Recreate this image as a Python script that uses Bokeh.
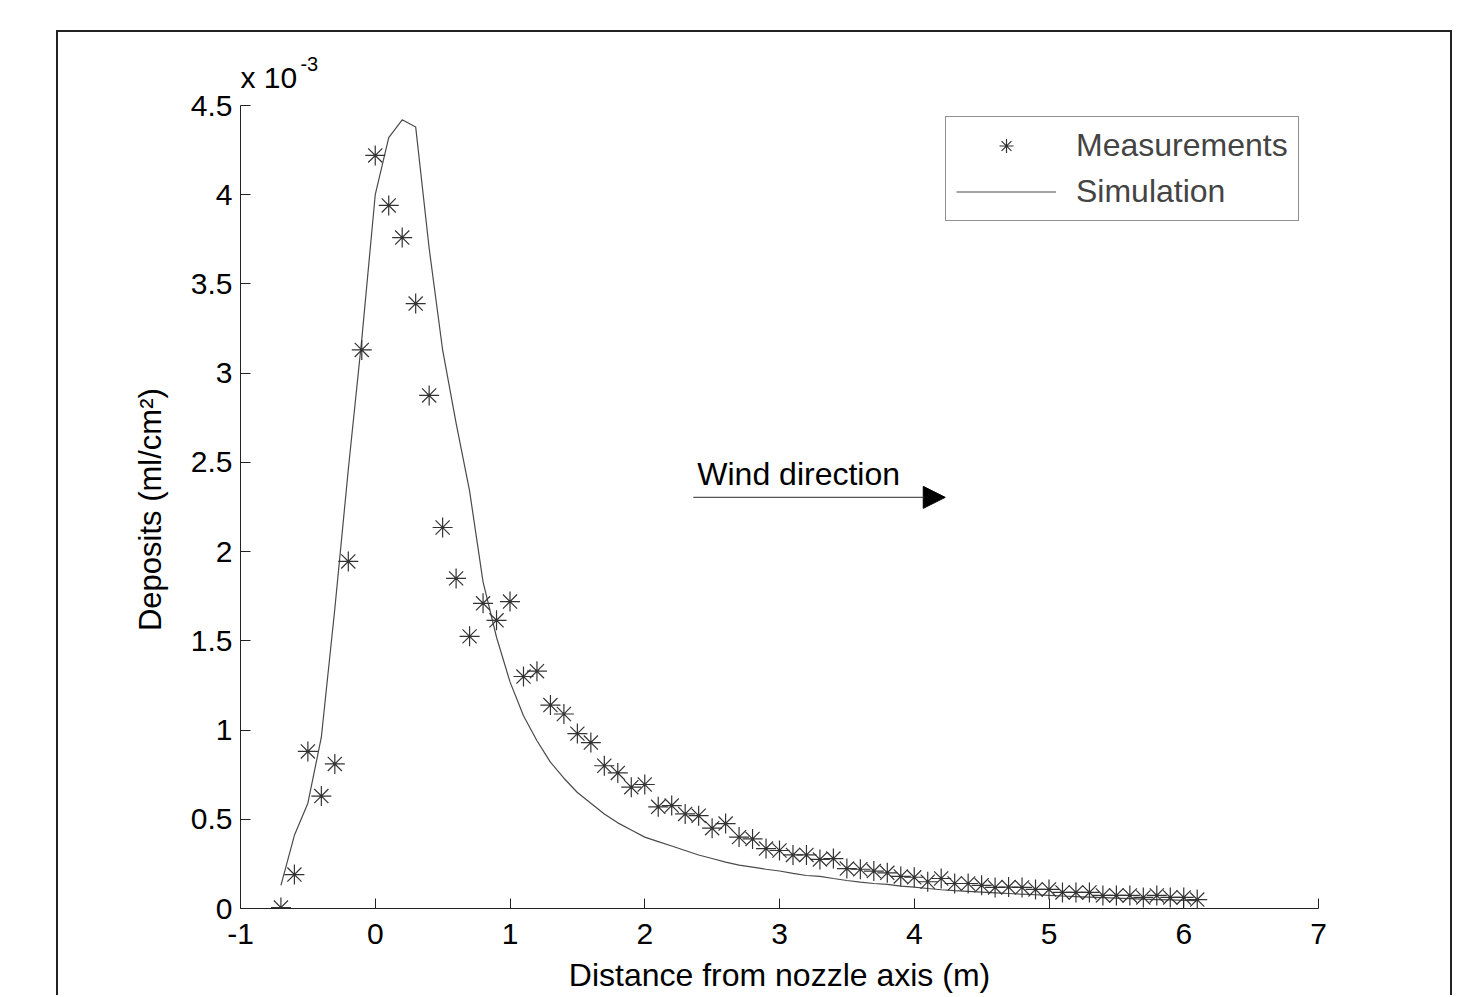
from bokeh.plotting import figure
from bokeh.models import Range1d, FixedTicker, Label, Arrow, NormalHead, Legend, LegendItem
from bokeh.embed import file_html
from bokeh.resources import INLINE

# ---- data (deposits in units of 1e-3 ml/cm^2) ----
meas_x = [-0.7, -0.6, -0.5, -0.4, -0.3, -0.2, -0.1, 0.0, 0.1, 0.2, 0.3, 0.4, 0.5, 0.6, 0.7, 0.8, 0.9,
          1.0, 1.1, 1.2, 1.3, 1.4, 1.5, 1.6, 1.7, 1.8, 1.9, 2.0, 2.1, 2.2, 2.3, 2.4, 2.5, 2.6, 2.7,
          2.8, 2.9, 3.0, 3.1, 3.2, 3.3, 3.4, 3.5, 3.6, 3.7, 3.8, 3.9, 4.0, 4.1, 4.2, 4.3, 4.4, 4.5,
          4.6, 4.7, 4.8, 4.9, 5.0, 5.1, 5.2, 5.3, 5.4, 5.5, 5.6, 5.7, 5.8, 5.9, 6.0, 6.1]
meas_y = [0.005, 0.19, 0.88, 0.63, 0.81, 1.945, 3.13, 4.22, 3.94, 3.76, 3.39, 2.875, 2.135, 1.85,
          1.525, 1.71, 1.615, 1.72, 1.30, 1.33, 1.14, 1.09, 0.98, 0.93, 0.80, 0.76, 0.68, 0.695,
          0.57, 0.577, 0.53, 0.52, 0.45, 0.476, 0.40, 0.39, 0.336, 0.325, 0.30, 0.30, 0.275, 0.28,
          0.224, 0.22, 0.21, 0.20, 0.18, 0.175, 0.15, 0.168, 0.14, 0.14, 0.13, 0.118, 0.12, 0.118,
          0.107, 0.107, 0.09, 0.09, 0.09, 0.073, 0.073, 0.073, 0.062, 0.073, 0.062, 0.062, 0.05]
sim_x = list(meas_x)
sim_y = [0.13, 0.41, 0.59, 0.96, 1.68, 2.46, 3.19, 4.00, 4.32, 4.42, 4.38, 3.70, 3.13, 2.72, 2.34,
         1.83, 1.52, 1.27, 1.08, 0.94, 0.82, 0.73, 0.65, 0.59, 0.53, 0.48, 0.44, 0.40, 0.375, 0.35,
         0.325, 0.30, 0.28, 0.26, 0.243, 0.232, 0.22, 0.21, 0.197, 0.185, 0.18, 0.168, 0.157, 0.148,
         0.14, 0.135, 0.125, 0.12, 0.112, 0.105, 0.10, 0.096, 0.092, 0.088, 0.084, 0.08, 0.077,
         0.074, 0.07, 0.067, 0.064, 0.061, 0.058, 0.055, 0.052, 0.05, 0.048, 0.046, 0.044]

x_ticks = [-1, 0, 1, 2, 3, 4, 5, 6, 7]
x_tick_labels = ["-1", "0", "1", "2", "3", "4", "5", "6", "7"]
y_ticks = [0, 0.5, 1, 1.5, 2, 2.5, 3, 3.5, 4, 4.5]
y_tick_labels = ["0", "0.5", "1", "1.5", "2", "2.5", "3", "3.5", "4", "4.5"]

FONT = "Liberation Sans"

Y_MAX = 4.5
EXTRA_PX = 55                       # empty room above the axis for the exponent label
PX_PER_UNIT = 803 / Y_MAX
Y_TOP = Y_MAX + EXTRA_PX / PX_PER_UNIT

p = figure(output_backend="svg", toolbar_location=None,
           frame_width=1078, frame_height=803 + EXTRA_PX,
           min_border_left=182, min_border_right=132, min_border_top=18, min_border_bottom=85,
           x_range=Range1d(-1, 7), y_range=Range1d(0, Y_TOP))
p.margin = (30, 0, 0, 56)
p.styles = {"border-left": "2px solid #222", "border-top": "2px solid #222",
            "border-right": "2px solid #222", "box-sizing": "content-box"}
p.outline_line_color = None
p.grid.visible = False
p.background_fill_color = "white"
p.border_fill_color = "white"

for ax in (p.xaxis[0], p.yaxis[0]):
    ax.major_tick_in = 10
    ax.major_tick_out = 0
    ax.minor_tick_line_color = None
    ax.axis_line_color = "#222"
    ax.major_tick_line_color = "#222"
    ax.major_label_text_font = FONT
    ax.major_label_text_font_size = "30px"
    ax.major_label_text_color = "black"
    ax.axis_label_text_font = FONT
    ax.axis_label_text_font_style = "normal"
    ax.axis_label_text_color = "black"

p.yaxis.bounds = (0, Y_MAX)
p.xaxis.ticker = FixedTicker(ticks=x_ticks)
p.xaxis.major_label_overrides = {t: l for t, l in zip(x_ticks, x_tick_labels)}
p.yaxis.ticker = FixedTicker(ticks=y_ticks)
p.yaxis.major_label_overrides = {t: l for t, l in zip(y_ticks, y_tick_labels)}
p.xaxis.major_label_standoff = 15
p.yaxis.major_label_standoff = 8
p.xaxis.axis_label = "Distance from nozzle axis (m)"
# trailing no-break spaces re-centre the rotated label on the 0-4.5 span of the axis
p.yaxis.axis_label = "Deposits (ml/cm²)" + "\u00a0" * 7
p.xaxis.axis_label_text_font_size = "32px"
p.yaxis.axis_label_text_font_size = "31px"
p.xaxis.axis_label_standoff = 10
p.yaxis.axis_label_standoff = 20

sim = p.line(sim_x, sim_y, line_color="#4a4a4a", line_width=1.2)
meas = p.scatter(meas_x, meas_y, marker="asterisk", size=20, line_color="#333333", line_width=1.2)

legend = Legend(items=[LegendItem(label="Measurements", renderers=[meas]),
                       LegendItem(label="Simulation", renderers=[sim])],
                location=(705, 687), padding=10, spacing=9,
                glyph_width=100, glyph_height=35, label_height=35, label_standoff=20,
                label_text_font=FONT, label_text_font_size="32px",
                border_line_color="#222", border_line_width=1.5,
                background_fill_alpha=1.0)
p.add_layout(legend)

# exponent label above y axis
p.add_layout(Label(x=-1.0, y=4.658, text="x 10", text_font=FONT, text_font_size="30px",
                   text_baseline="alphabetic", text_color="black"))
p.add_layout(Label(x=-0.555, y=4.731, text="-3", text_font=FONT, text_font_size="20px",
                   text_baseline="alphabetic", text_color="black"))

# wind direction annotation
p.add_layout(Label(x=2.39, y=2.433, text="Wind direction", text_font=FONT, text_font_size="32px",
                   text_baseline="alphabetic", text_color="black"))
p.add_layout(Arrow(x_start=2.36, y_start=2.304, x_end=4.23, y_end=2.304,
                   line_color="#555", line_width=1.2,
                   end=NormalHead(size=22, fill_color="black", line_color="black", line_width=1)))

open("out.html", "w").write(file_html(p, INLINE))
